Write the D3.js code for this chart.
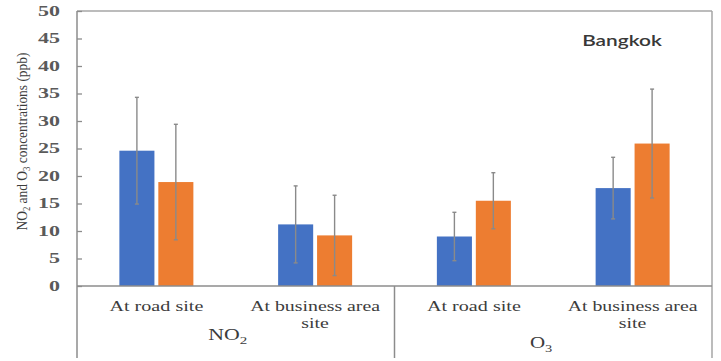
<!DOCTYPE html>
<html>
<head>
<meta charset="utf-8">
<script src="https://cdn.jsdelivr.net/npm/d3@7"></script>
<style>
  html, body { margin: 0; padding: 0; background: #fff; }
  svg { display: block; }
</style>
</head>
<body>
<svg id="chart" width="721" height="361"></svg>
<script>
// ---- data ----
const pollutants = ["NO2", "O3"];
const sites = ["At road site", "At business area site"];
const categories = ["NO2|At road site", "NO2|At business area site", "O3|At road site", "O3|At business area site"];
const series = ["Series 1", "Series 2"];
const meanSeries1 = [24.6, 11.2, 9.0, 17.8];
const meanSeries2 = [18.9, 9.2, 15.5, 25.9];
const errSeries1 = [9.7, 7.0, 4.4, 5.6];
const errSeries2 = [10.5, 7.3, 5.1, 9.9];
const yTicks = [0, 5, 10, 15, 20, 25, 30, 35, 40, 45, 50];
const annotation = "Bangkok";

(function () {
// ---- layout ----
const svg = d3.select("#chart");
const pL = 77, pR = 712, pT = 11, pB = 286, pLow = 358;
const y = d3.scaleLinear().domain([0, 50]).range([pB, pT]);
const x = d3.scaleBand().domain(categories).range([pL, pR]).padding(0);
const groupW = 74;
const xs = d3.scaleBand().domain(series).range([0, groupW]).paddingInner(0.1);
const colors = { "Series 1": "#4472C4", "Series 2": "#ED7D31" };

function scaleAbout(sel, s, cx) {
  sel.attr("transform", `translate(${cx},0) scale(${s},1) translate(${-cx},0)`);
}
function fit(sel, target) {
  const bb = sel.node().getBBox();
  scaleAbout(sel, target / bb.width, bb.x + bb.width / 2);
}

// frame
const frame = svg.append("g").attr("fill", "none");
frame.append("line").attr("x1", pL).attr("x2", pR).attr("y1", pT).attr("y2", pT)
  .attr("stroke", "#a6a6a6").attr("stroke-width", 1.5);
frame.append("line").attr("x1", pR).attr("x2", pR).attr("y1", pT).attr("y2", pLow)
  .attr("stroke", "#a6a6a6").attr("stroke-width", 1.5);

// bars
const data = [];
categories.forEach((c, i) => {
  data.push({ c, s: series[0], v: meanSeries1[i], e: errSeries1[i] });
  data.push({ c, s: series[1], v: meanSeries2[i], e: errSeries2[i] });
});
const off = (x.bandwidth() - groupW) / 2;
svg.append("g").selectAll("rect").data(data).join("rect")
  .attr("x", d => x(d.c) + off + xs(d.s))
  .attr("width", xs.bandwidth())
  .attr("y", d => y(d.v))
  .attr("height", d => y(0) - y(d.v))
  .attr("fill", d => colors[d.s]);

// error bars
const eb = svg.append("g").attr("stroke", "#8a8a8a").attr("stroke-width", 1.4);
data.forEach(d => {
  const cx = x(d.c) + off + xs(d.s) + xs.bandwidth() / 2;
  eb.append("line").attr("x1", cx).attr("x2", cx).attr("y1", y(d.v + d.e)).attr("y2", y(d.v - d.e));
  [d.v + d.e, d.v - d.e].forEach(v => {
    eb.append("line").attr("x1", cx - 2).attr("x2", cx + 2).attr("y1", y(v)).attr("y2", y(v));
  });
});

// y axis
const ya = svg.append("g").attr("transform", `translate(${pL},0)`)
  .call(d3.axisRight(y).tickValues(yTicks).tickSize(5).tickFormat(""));
ya.select(".domain").remove();
ya.selectAll(".tick line").attr("stroke", "#8c8c8c").attr("stroke-width", 1.3);
svg.append("line").attr("x1", pL).attr("x2", pL).attr("y1", pT).attr("y2", pLow)
  .attr("stroke", "#8c8c8c").attr("stroke-width", 1.5);
// tick labels
yTicks.forEach(t => {
  const tx = svg.append("text").attr("x", 60).attr("y", y(t) + 5)
    .attr("text-anchor", "end")
    .attr("font-family", "Liberation Serif, serif").attr("font-size", 15).attr("font-weight", "bold")
    .attr("fill", "#5a5a5a").text(t);
  const bb = tx.node().getBBox();
  scaleAbout(tx, (String(t).length * 11) / bb.width, 60);
});

// x axis line and dividers
svg.append("line").attr("x1", pL).attr("x2", pR).attr("y1", pB).attr("y2", pB)
  .attr("stroke", "#8c8c8c").attr("stroke-width", 1.5);
const midX = x(categories[2]);
svg.append("line").attr("x1", midX).attr("x2", midX).attr("y1", pB).attr("y2", pLow)
  .attr("stroke", "#8c8c8c").attr("stroke-width", 1.5);

// category labels
const labelFont = "Liberation Serif, serif";
const fs = 14.5;
categories.forEach((c, i) => {
  const cx = x(c) + x.bandwidth() / 2;
  const site = c.split("|")[1];
  const t = svg.append("text").attr("x", cx).attr("y", 311).attr("text-anchor", "middle")
    .attr("font-family", labelFont).attr("font-size", fs).attr("fill", "#3c3c3c");
  if (site === sites[0]) {
    t.text(site);
    fit(t, 94);
  } else {
    const l1 = t.append("tspan").attr("x", cx).text("At business area");
    t.append("tspan").attr("x", cx).attr("dy", 17).text("site");
    const w1 = l1.node().getComputedTextLength();
    scaleAbout(t, 130 / w1, cx);
  }
});

// group labels
pollutants.forEach((p, i) => {
  const g0 = x(categories[i * 2]), g1 = x(categories[i * 2 + 1]) + x.bandwidth();
  const cx = (g0 + g1) / 2 - (i === 0 ? 8 : 12);
  const base = i === 0 ? 340 : 348;
  const t = svg.append("text").attr("x", cx).attr("y", base).attr("text-anchor", "middle")
    .attr("font-family", labelFont).attr("font-size", 16).attr("fill", "#3c3c3c");
  t.append("tspan").text(p.slice(0, -1));
  t.append("tspan").attr("dy", 4).attr("font-size", 11).text(p.slice(-1));
  fit(t, i === 0 ? 39 : 23);
});

// y axis title
const yt = svg.append("g").attr("transform", "translate(27,141.5) rotate(-90)");
const ytt = yt.append("text").attr("x", 0).attr("y", 0).attr("text-anchor", "middle")
  .attr("font-family", labelFont).attr("font-size", 15.5).attr("fill", "#3c3c3c");
ytt.append("tspan").text("NO");
ytt.append("tspan").attr("dy", 3).attr("font-size", 10).text("2");
ytt.append("tspan").attr("dy", -3).text(" and O");
ytt.append("tspan").attr("dy", 3).attr("font-size", 10).text("3");
ytt.append("tspan").attr("dy", -3).text(" concentrations (ppb)");
fit(ytt, 178);

// annotation
const an = svg.append("text").attr("x", 622).attr("y", 46).attr("text-anchor", "middle")
  .attr("font-family", "Lato, sans-serif").attr("font-size", 15).attr("font-weight", 600)
  .attr("fill", "#383838").text(annotation);
fit(an, 80);
})();
</script>
</body>
</html>
